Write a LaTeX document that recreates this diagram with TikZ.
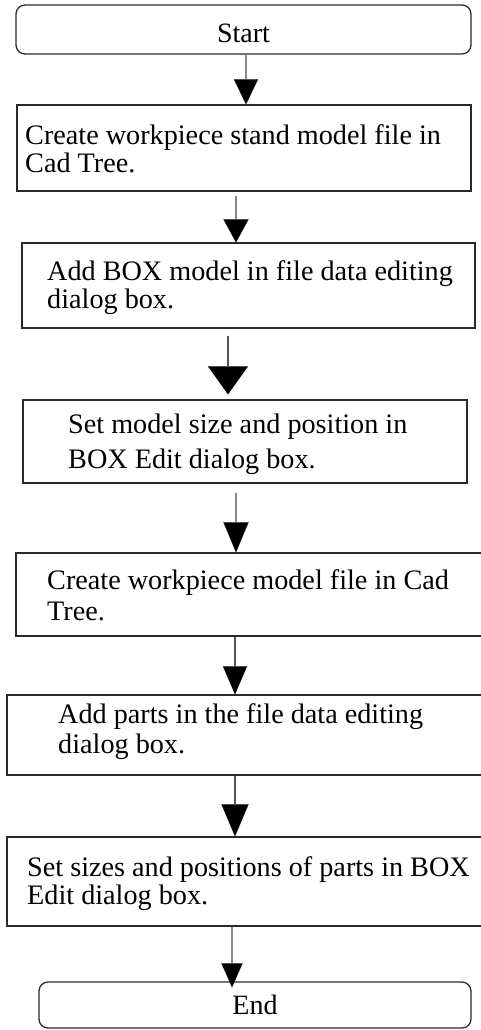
\documentclass[tikz,border=0pt]{standalone}
\usepackage{fontspec}
\setmainfont{Liberation Serif}
\usetikzlibrary{arrows.meta}
\definecolor{bordc}{HTML}{2A2A2A}
\definecolor{lineg}{HTML}{8A8A8A}
\definecolor{lined}{HTML}{555555}
\begin{document}
\begin{tikzpicture}[x=1pt,y=-1pt,
  stepbox/.style={draw=bordc,line width=1.3pt,inner sep=0pt,rectangle},
  termbox/.style={draw=bordc,line width=1.3pt,inner sep=0pt,rectangle,rounded corners=9pt,
     font=\fontsize{28}{30}\selectfont,text depth=0pt},
  txt/.style={anchor=north west,inner sep=0pt,align=left,font=\fontsize{28.2}{#1}\selectfont},
  arr/.style n args={3}{draw=#3,line width=1.5pt,-{Triangle[length=#1pt,width=#2pt,black,line width=0.1pt]}}
]
\useasboundingbox (0,0) rectangle (480,1030);
\fill[white] (0,0) rectangle (480,1030);

% terminals
\node[termbox,minimum width=455pt,minimum height=49pt,text height=27pt] (s) at (243.5,29.5) {Start};
\node[termbox,minimum width=432pt,minimum height=46pt,text height=18pt] (e) at (255,1005) {End};

% process boxes
\node[stepbox,minimum width=454pt,minimum height=86pt] (b1) at (244,148) {};
\node[stepbox,minimum width=453pt,minimum height=85pt] (b2) at (248.5,285.5) {};
\node[stepbox,minimum width=444pt,minimum height=83pt] (b3) at (245,441.5) {};
\node[stepbox,minimum width=468pt,minimum height=83pt] (b4) at (250,594.5) {};
\node[stepbox,minimum width=477pt,minimum height=80pt] (b5) at (245.5,735) {};
\node[stepbox,minimum width=477pt,minimum height=89pt] (b6) at (245.5,881.5) {};

% texts
\node[txt=28] (t1) at (25,124) {\strut Create workpiece stand model file in\\\strut Cad Tree.};
\node[txt=28] (t2) at (47,260) {\strut Add BOX model in file data editing\\\strut dialog box.};
\node[txt=35] (t3) at (68,409) {\strut Set model size and position in\\\strut BOX Edit dialog box.};
\node[txt=31] (t4) at (47,567.8) {\strut Create workpiece model file in Cad\\\strut Tree.};
\node[txt=30] (t5) at (58,702.2) {\strut Add parts in the file data editing\\\strut dialog box.};
\node[txt=28] (t6) at (27,856) {\strut Set sizes and positions of parts in BOX\\\strut Edit dialog box.};

% connectors
\draw[arr={25}{24}{lineg}] (246,0 |- s.south) -- (246,0 |- b1.north);
\draw[arr={23}{25}{lineg},shorten <=4pt] (236,0 |- b1.south) -- (236,0 |- b2.north);
\draw[arr={28}{40}{lined},shorten <=7pt,shorten >=5pt] (228,0 |- b2.south) -- (228,0 |- b3.north);
\draw[arr={30}{25}{lineg},shorten <=9pt] (236,0 |- b3.south) -- (236,0 |- b4.north);
\draw[arr={28}{24}{lined}] (235,0 |- b4.south) -- (235,0 |- b5.north);
\draw[arr={32}{27}{lined}] (235,0 |- b5.south) -- (235,0 |- b6.north);
\draw[arr={24}{21}{lineg},shorten >=-6pt] (232,0 |- b6.south) -- (232,0 |- e.north);
\end{tikzpicture}
\end{document}
